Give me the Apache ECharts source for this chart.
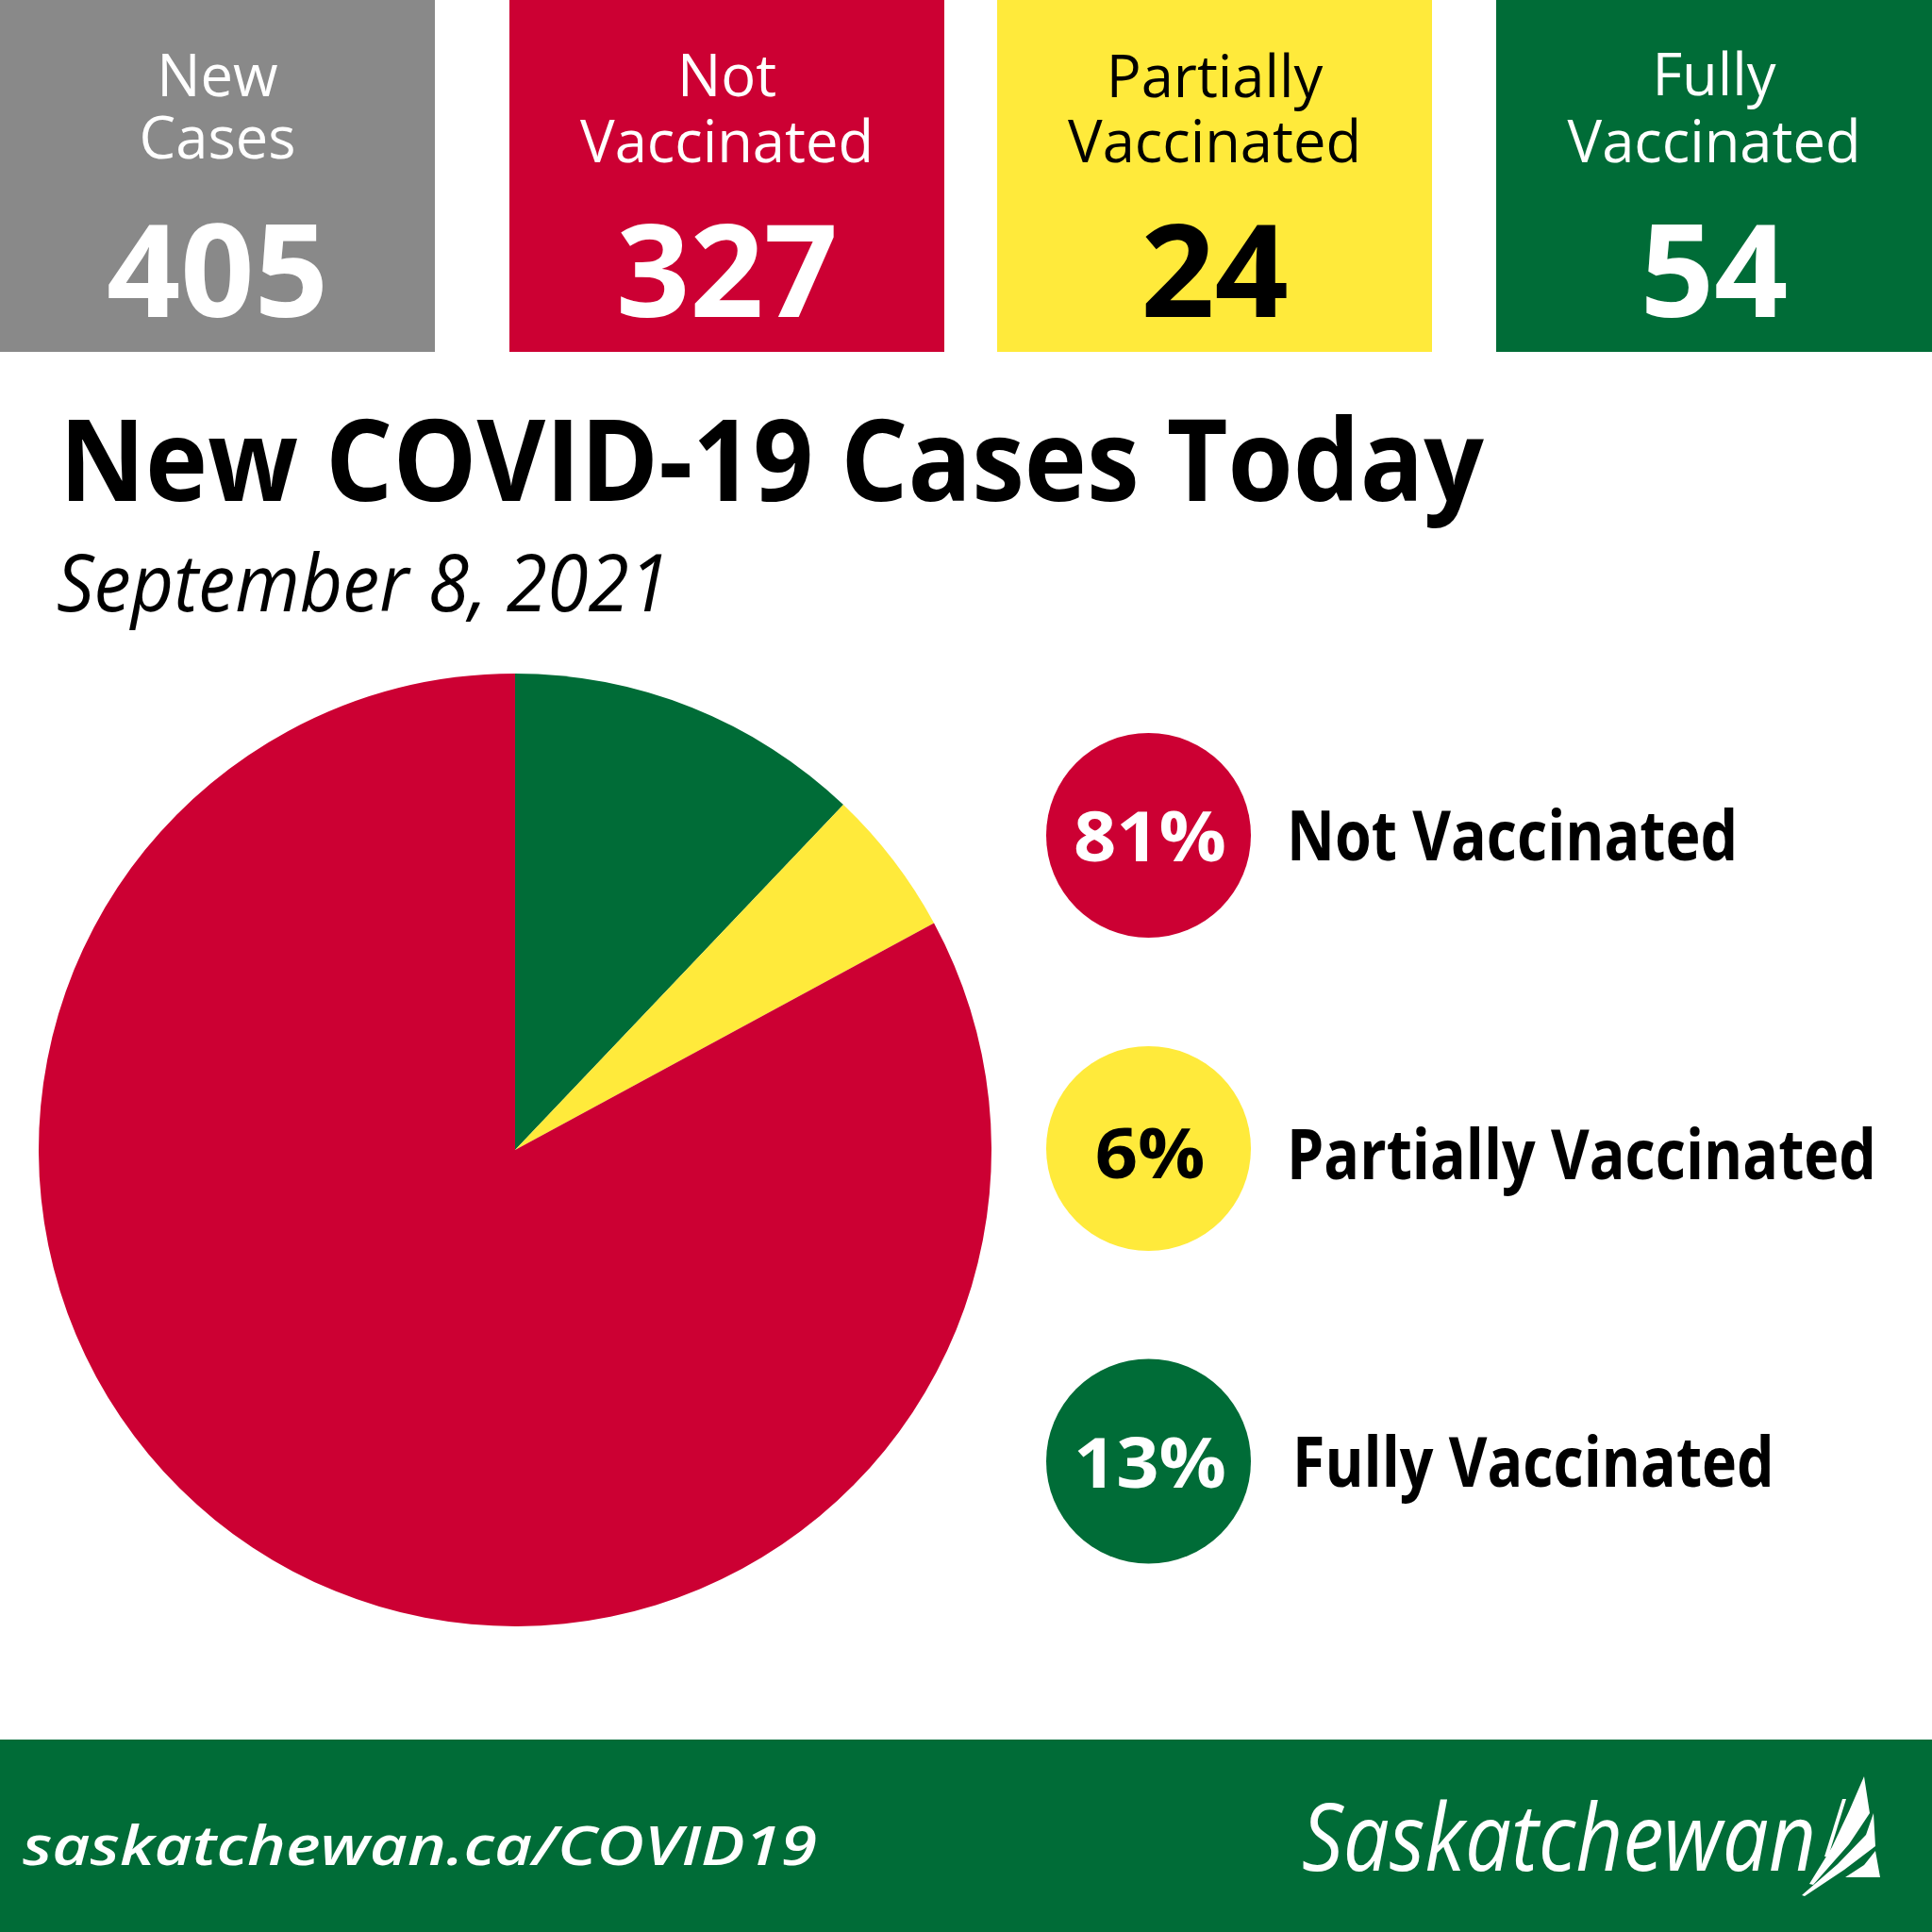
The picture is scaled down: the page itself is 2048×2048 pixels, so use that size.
<!DOCTYPE html>
<html><head><meta charset="utf-8">
<script src="https://cdn.jsdelivr.net/npm/echarts@6/dist/echarts.min.js"></script>
<style>html,body{margin:0;padding:0;background:#fff}#c{width:2048px;height:2048px}</style>
</head><body><div id="c"></div>
<script>
// ---------------- data ----------------
const categories = ['Not Vaccinated', 'Partially Vaccinated', 'Fully Vaccinated'];
const caseCounts = [327, 24, 54];
const totalLabel = ['New', 'Cases'];
const totalCases = 405;
const percentLabels = ['81%', '6%', '13%'];
// slice sizes as drawn in the picture (percent of circle)
const pieShares = [82.9, 5.0, 12.1];
const boxTitles = [['New', 'Cases'], ['Not', 'Vaccinated'], ['Partially', 'Vaccinated'], ['Fully', 'Vaccinated']];
const boxValues = [totalCases].concat(caseCounts);
const titleText = 'New COVID-19 Cases Today';
const dateText = 'September 8, 2021';
const footerUrl = 'saskatchewan.ca/COVID19';
const footerBrand = 'Saskatchewan';

// ---------------- style ----------------
const FONT = 'Open Sans';
const GRAY = '#898989', RED = '#cc0033', YELLOW = '#ffea3b', GREEN = '#006c37';
const catColors = [RED, YELLOW, GREEN];
const boxColors = [GRAY, RED, YELLOW, GREEN];
const boxTextColors = ['#fff', '#fff', '#000', '#fff'];
const pctTextColors = ['#fff', '#000', '#fff'];

const mctx = document.createElement('canvas').getContext('2d');
function fontStr(o) { return (o.style || 'normal') + ' ' + (o.weight || 'normal') + ' ' + o.size + 'px "' + FONT + '"'; }
function fitScale(text, o, target) { mctx.font = fontStr(o); return target / mctx.measureText(text).width; }
function txt(text, x, y, o) {
  const s = o.scale != null ? o.scale : (o.target ? fitScale(text, o, o.target) : 1);
  return {
    type: 'text', x: x, y: y + 0.08 * o.size, scaleX: s, scaleY: 1, originX: 0, originY: 0, silent: true, z: 10,
    style: {
      text: text, x: 0, y: 0, fill: o.color || '#000', fontSize: o.size, fontFamily: FONT,
      fontWeight: o.weight || 'normal', fontStyle: o.style || 'normal',
      align: o.align || 'left', verticalAlign: 'middle'
    }
  };
}

const g = [];
// top boxes
const boxX = [[0, 461], [540, 1001], [1057, 1518], [1586, 2048]];
const lineY = [[79.5, 145.5], [79, 149.5], [80.5, 149.5], [78.5, 149]];
const labelFont = { size: 63 };
const labelScale = fitScale('Vaccinated', labelFont, 311);
const numFont = { size: 137, weight: 'bold' };
const numScale = fitScale('405', numFont, 235);
boxX.forEach(function (b, i) {
  g.push({ type: 'rect', silent: true, shape: { x: b[0], y: 0, width: b[1] - b[0], height: 373 }, style: { fill: boxColors[i] } });
  const cx = (b[0] + b[1]) / 2;
  boxTitles[i].forEach(function (w, j) {
    g.push(txt(w, cx, lineY[i][j], { size: 63, scale: labelScale, color: boxTextColors[i], align: 'center' }));
  });
  g.push(txt(String(boxValues[i]), cx, 286, { size: 137, weight: 'bold', scale: numScale, color: boxTextColors[i], align: 'center' }));
});

// title
g.push(txt(titleText, 63, 487, { size: 120, weight: 'bold', target: 1510 }));
g.push(txt(dateText, 60, 616.5, { size: 85, style: 'italic', target: 650 }));

// legend
const legY = [885.5, 1217.5, 1549];
const pctFont = { size: 74, weight: 'bold' };
const pctScale = fitScale('81%', pctFont, 162);
const labFont = { size: 73, weight: 'bold' };
const labScale = fitScale('Partially Vaccinated', labFont, 625);
categories.forEach(function (c, i) {
  g.push({ type: 'circle', silent: true, shape: { cx: 1217.5, cy: legY[i], r: 108.5 }, style: { fill: catColors[i] } });
  g.push(txt(percentLabels[i], 1219, legY[i] + (i === 1 ? 5 : 1), { size: 74, weight: 'bold', scale: pctScale, color: pctTextColors[i], align: 'center' }));
  g.push(txt(c, i === 2 ? 1370 : 1364, legY[i] + (i === 1 ? 6 : 0), { size: 73, weight: 'bold', scale: labScale }));
});

// footer
g.push({ type: 'rect', silent: true, shape: { x: 0, y: 1844, width: 2048, height: 204 }, style: { fill: GREEN } });
g.push(txt(footerUrl, 24, 1955.5, { size: 58, weight: 600, style: 'italic', color: '#fff', target: 842 }));
g.push(txt(footerBrand, 1380, 1947, { size: 98, style: 'italic', color: '#fff', target: 545 }));
// wheat logo
const logo = [
  [[1953, 1907], [1957, 1907], [1938, 1968], [1934, 1968]],
  [[1976, 1883], [1982, 1922], [1960, 1955], [1922, 1998], [1918, 1997], [1942, 1958], [1960, 1920]],
  [[1986, 1922], [1988, 1957], [1955, 1982], [1913, 2010], [1910, 2009], [1948, 1976], [1978, 1945]],
  [[1988, 1962], [1993, 1990], [1956, 1990], [1976, 1977]]
];
logo.forEach(function (p) { g.push({ type: 'polygon', silent: true, shape: { points: p }, style: { fill: '#fff' } }); });

// pie: clockwise from top -> Fully, Partially, Not
const pieData = [2, 1, 0].map(function (i) {
  return { name: categories[i], value: pieShares[i], itemStyle: { color: catColors[i] } };
});

const chart = echarts.init(document.getElementById('c'), null, { renderer: 'canvas', width: 2048, height: 2048 });
chart.setOption({
  backgroundColor: '#fff',
  animation: false,
  graphic: { elements: g },
  series: [{
    type: 'pie', center: [546, 1219], radius: 505, startAngle: 90, clockwise: true,
    silent: true, label: { show: false }, labelLine: { show: false },
    itemStyle: { borderWidth: 0 }, emphasis: { disabled: true },
    data: pieData
  }]
});
</script></body></html>
